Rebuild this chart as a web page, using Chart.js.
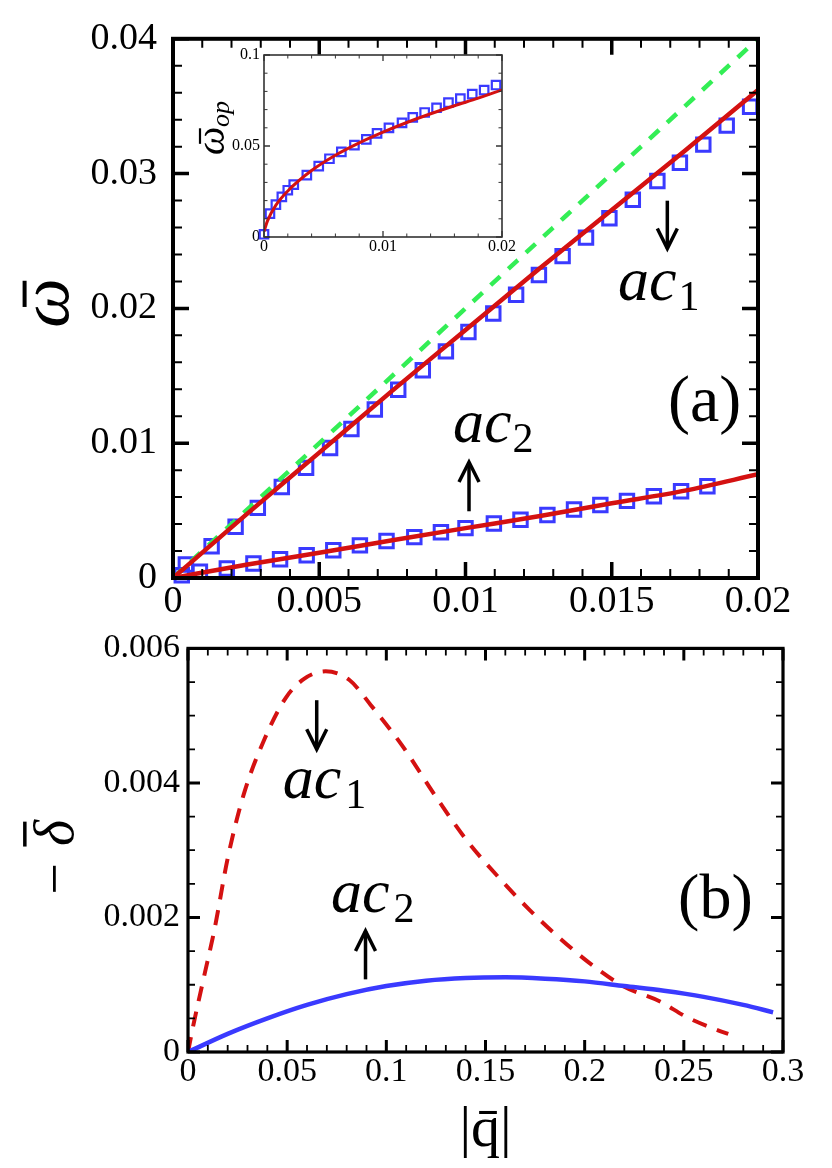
<!DOCTYPE html>
<html>
<head>
<meta charset="utf-8">
<script src="https://cdn.jsdelivr.net/npm/chart.js@4.4.1/dist/chart.umd.min.js"></script>
<style>
  html, body { margin: 0; padding: 0; background: #fff; }
  #wrap { position: relative; width: 832px; height: 1168px; overflow: hidden; }
  canvas { position: absolute; }
</style>
</head>
<body>
<div id="wrap">
  <canvas id="panelA" width="832" height="640" style="left:0px;top:0px"></canvas>
  <canvas id="inset" width="340" height="230" style="left:180px;top:36px"></canvas>
  <canvas id="panelB" width="832" height="548" style="left:0px;top:620px"></canvas>
</div>
<script>
// ---- panel (a): frequency vs wave number ----
const aSquareQ1 = [0.00044, 0.00132, 0.00214, 0.0029, 0.00372, 0.00455, 0.00537, 0.0061, 0.0069, 0.0077, 0.00854, 0.00933, 0.0101,
  0.01095, 0.01173, 0.01251, 0.01332, 0.01412, 0.01492, 0.01572, 0.01656, 0.01733, 0.01813, 0.01893, 0.01973];
const aSquareW1 = [0.0010, 0.00235, 0.0038, 0.0052, 0.00675, 0.00817, 0.00964, 0.01106, 0.0125, 0.01397, 0.01541, 0.01681, 0.01825,
  0.01962, 0.02101, 0.02248, 0.02388, 0.02525, 0.02669, 0.02806, 0.02945, 0.0308, 0.03215, 0.03356, 0.03496];
const aSquareQ2 = [0.0003, 0.00092, 0.00184, 0.00275, 0.00366, 0.00457, 0.00548, 0.00639, 0.0073, 0.00825, 0.00916,
  0.01, 0.01097, 0.01188, 0.0128, 0.01371, 0.01461, 0.01552, 0.01644, 0.01737, 0.01827];
const aSquareW2 = [0.0002, 0.00046, 0.00071, 0.00108, 0.00139, 0.00169, 0.00206, 0.00242, 0.00274, 0.00303, 0.0034,
  0.0037, 0.00404, 0.00432, 0.00468, 0.00508, 0.00542, 0.00572, 0.00606, 0.00643, 0.0068];
const aLineQ = [0, 0.0025, 0.005, 0.0075, 0.01, 0.0125, 0.015, 0.0175, 0.02];
const aLineW1 = [0, 0.0047, 0.0093, 0.0139, 0.0184, 0.0229, 0.0273, 0.0317, 0.0362];
const aLineW2 = [0, 0.00098, 0.00187, 0.0028, 0.0037, 0.00458, 0.00554, 0.00648, 0.0077];
const aGreenQ = [0, 0.02];
const aGreenW = [0, 0.04];
const aXTicks = [0, 0.005, 0.01, 0.015, 0.02];
const aXTickLabels = ['0', '0.005', '0.01', '0.015', '0.02'];
const aYTicks = [0, 0.01, 0.02, 0.03, 0.04];
const aYTickLabels = ['0', '0.01', '0.02', '0.03', '0.04'];

// ---- inset: optical branch ----
const insetQ = [0, 0.0005, 0.001, 0.0015, 0.002, 0.0025, 0.0036, 0.0046, 0.0055, 0.0065, 0.0076, 0.0086,
  0.0095, 0.0105, 0.0116, 0.0125, 0.0135, 0.0145, 0.0155, 0.0165, 0.0175, 0.0185, 0.0195];
const insetW = [0.0015, 0.0128, 0.0178, 0.022, 0.0257, 0.0288, 0.034, 0.0389, 0.043, 0.0468, 0.0505, 0.0536,
  0.0569, 0.06, 0.0627, 0.0657, 0.0684, 0.071, 0.0738, 0.076, 0.0785, 0.0807, 0.0835];
const insetLineQ = [0, 0.0003, 0.001, 0.002, 0.004, 0.006, 0.008, 0.01, 0.012, 0.014, 0.016, 0.018, 0.02];
const insetLineW = [0.003, 0.009, 0.0175, 0.0253, 0.0365, 0.0449, 0.0517, 0.0576, 0.0629, 0.0677, 0.0721, 0.0763, 0.0808];
const insetXTicks = [0, 0.01, 0.02];
const insetXTickLabels = ['0', '0.01', '0.02'];
const insetYTicks = [0, 0.05, 0.1];
const insetYTickLabels = ['0', '0.05', '0.1'];

// ---- panel (b): damping ----
const bQ1 = [0, 0.0027, 0.008, 0.0134, 0.0201, 0.0281, 0.0387, 0.0494, 0.0587, 0.0694, 0.0814, 0.0921, 0.1081,
  0.1242, 0.1402, 0.1562, 0.1723, 0.1883, 0.2043, 0.22, 0.238, 0.2514, 0.2666, 0.2724];
const bD1 = [0, 0.0004, 0.00111, 0.00183, 0.00289, 0.00383, 0.00466, 0.00527, 0.00555, 0.00566, 0.00553, 0.00516, 0.00455,
  0.00383, 0.00316, 0.00261, 0.00211, 0.00167, 0.00128, 0.00097, 0.00075, 0.00052, 0.00033, 0.00027];
const bQ2 = [0, 0.02, 0.04, 0.06, 0.08, 0.1, 0.12, 0.14, 0.16, 0.18, 0.2, 0.22, 0.24, 0.26, 0.28, 0.295];
const bD2 = [0, 0.00027, 0.0005, 0.0007, 0.00086, 0.00098, 0.00106, 0.0011, 0.00111, 0.00109, 0.00105, 0.00098,
  0.00091, 0.00082, 0.0007, 0.00059];
const bXTicks = [0, 0.05, 0.1, 0.15, 0.2, 0.25, 0.3];
const bXTickLabels = ['0', '0.05', '0.1', '0.15', '0.2', '0.25', '0.3'];
const bYTicks = [0, 0.002, 0.004, 0.006];
const bYTickLabels = ['0', '0.002', '0.004', '0.006'];

const SERIF = '"Liberation Serif", "DejaVu Serif", serif';
Chart.defaults.font.family = SERIF;
Chart.defaults.color = '#000';

const pts = (xs, ys) => xs.map((v, i) => ({ x: v, y: ys[i] }));

// box round the plot with inward ticks on every side
const frame = {
  id: 'frame',
  beforeDatasetsDraw(chart, args, o) {
    if (!o.fill) return;
    const a = chart.chartArea, ctx = chart.ctx;
    ctx.save();
    ctx.fillStyle = o.fill;
    ctx.fillRect(a.left, a.top, a.width, a.height);
    ctx.restore();
  },
  afterDatasetsDraw(chart, args, o) {
    const { ctx, chartArea: a, scales } = chart;
    ctx.save();
    ctx.strokeStyle = o.color;
    ['x', 'y'].forEach(id => {
      const s = scales[id];
      const step = o[id + 'Minor'];
      const n = Math.round((s.max - s.min) / step);
      for (let i = 0; i <= n; i++) {
        const v = s.min + i * step;
        const major = s.ticks.some(t => Math.abs(t.value - v) < step / 10);
        const len = major ? o.major : o.minor;
        ctx.lineWidth = major ? o.majorWidth : o.minorWidth;
        const p = s.getPixelForValue(v);
        ctx.beginPath();
        if (id === 'x') {
          ctx.moveTo(p, a.bottom); ctx.lineTo(p, a.bottom - len);
          ctx.moveTo(p, a.top); ctx.lineTo(p, a.top + len);
        } else {
          ctx.moveTo(a.left, p); ctx.lineTo(a.left + len, p);
          ctx.moveTo(a.right, p); ctx.lineTo(a.right - len, p);
        }
        ctx.stroke();
      }
    });
    ctx.lineWidth = o.width;
    ctx.strokeRect(a.left, a.top, a.width, a.height);
    ctx.restore();
  }
};

// labels, arrows and rotated axis titles (with a drawn bar over the symbol)
const notes = {
  id: 'notes',
  afterDraw(chart, args, o) {
    const { ctx, scales: { x, y } } = chart;
    ctx.save();
    ctx.fillStyle = '#000';
    ctx.strokeStyle = '#000';
    ctx.textAlign = 'left';
    ctx.textBaseline = 'alphabetic';
    (o.texts || []).forEach(t => {
      const px = x.getPixelForValue(t.x), py = y.getPixelForValue(t.y);
      ctx.font = (t.italic ? 'italic ' : '') + t.size + 'px ' + SERIF;
      ctx.fillText(t.text, px, py);
      if (t.sub) {
        const w = ctx.measureText(t.text).width;
        ctx.font = t.subSize + 'px ' + SERIF;
        ctx.fillText(t.sub, px + w + t.subGap, py + t.subDrop);
      }
    });
    (o.arrows || []).forEach(r => {
      const px = x.getPixelForValue(r.x);
      const p0 = y.getPixelForValue(r.from), p1 = y.getPixelForValue(r.to);
      const dir = Math.sign(p1 - p0);
      ctx.lineWidth = 3.5;
      ctx.beginPath();
      ctx.moveTo(px, p0); ctx.lineTo(px, p1);
      ctx.stroke();
      ctx.beginPath();
      ctx.moveTo(px - 10, p1 - dir * 20); ctx.lineTo(px, p1); ctx.lineTo(px + 10, p1 - dir * 20);
      ctx.stroke();
    });
    (o.rotated || []).forEach(t => {
      ctx.save();
      ctx.translate(t.x, t.y);
      ctx.rotate(-Math.PI / 2);
      ctx.font = 'italic ' + t.size + 'px ' + SERIF;
      const w1 = ctx.measureText(t.text).width;
      let w2 = 0;
      if (t.sub) {
        ctx.font = 'italic ' + t.subSize + 'px ' + SERIF;
        w2 = ctx.measureText(t.sub).width;
      }
      const x0 = -(w1 + w2) / 2;
      ctx.font = 'italic ' + t.size + 'px ' + SERIF;
      ctx.fillText(t.text, x0, 0);
      if (t.sub) {
        ctx.font = 'italic ' + t.subSize + 'px ' + SERIF;
        ctx.fillText(t.sub, x0 + w1, t.subDrop);
      }
      ctx.lineWidth = t.barWidth;
      ctx.beginPath();
      ctx.moveTo(x0 + w1 * t.bar[0], -t.size * t.bar[2]);
      ctx.lineTo(x0 + w1 * t.bar[1], -t.size * t.bar[2]);
      ctx.stroke();
      ctx.restore();
    });
    ctx.restore();
  }
};

function axis(min, max, ticks, labels, size, pad, fit, title) {
  return {
    type: 'linear', min: min, max: max,
    grid: { display: false, drawTicks: false },
    border: { display: false },
    afterBuildTicks: s => { s.ticks = ticks.map(v => ({ value: v })); },
    ticks: { callback: (v, i) => labels[i], font: { size: size }, color: '#000', padding: pad, maxRotation: 0, autoSkip: false },
    title: title || { display: false },
    afterFit: s => { if (s.isHorizontal()) s.height = fit; else s.width = fit; }
  };
}

const common = {
  responsive: false,
  animation: false,
  events: [],
  devicePixelRatio: 1
};

const BLUE = '#3a3aff', RED = '#d41111', GREEN = '#33ee55';

const squares = (data, r, bw) => ({
  data: data, showLine: false, pointStyle: 'rect', pointRadius: r, pointBorderWidth: bw,
  pointBorderColor: BLUE, pointBackgroundColor: 'rgba(0,0,0,0)', clip: false
});
const curve = (data, color, width, dash) => ({
  data: data, showLine: true, pointRadius: 0, borderColor: color, borderWidth: width,
  borderDash: dash || [], cubicInterpolationMode: 'monotone', fill: false
});

new Chart(document.getElementById('panelA'), {
  type: 'scatter',
  data: {
    datasets: [
      curve(pts(aLineQ, aLineW1), RED, 4.5),
      curve(pts(aLineQ, aLineW2), RED, 4.5),
      curve(pts(aGreenQ, aGreenW), GREEN, 4.5, [13, 11]),
      squares(pts(aSquareQ1, aSquareW1), 9.5, 3),
      squares(pts(aSquareQ2, aSquareW2), 9.5, 3)
    ]
  },
  options: Object.assign({}, common, {
    layout: { padding: { left: 0, right: 74, top: 33, bottom: 0 } },
    scales: {
      x: axis(0, 0.02, aXTicks, aXTickLabels, 38, 1, 62),
      y: axis(0, 0.04, aYTicks, aYTickLabels, 38, 16, 173)
    },
    plugins: {
      legend: { display: false },
      tooltip: { enabled: false },
      frame: { color: '#000', width: 4, major: 16, minor: 9, majorWidth: 3.5, minorWidth: 2, xMinor: 0.001, yMinor: 0.002 },
      notes: {
        texts: [
          { x: 0.01521, y: 0.02062, text: 'ac', sub: '1', italic: true, size: 62, subSize: 42, subGap: 2, subDrop: 10 },
          { x: 0.00957, y: 0.01006, text: 'ac', sub: '2', italic: true, size: 62, subSize: 42, subGap: 1, subDrop: 10 },
          { x: 0.01692, y: 0.01167, text: '(a)', size: 66 }
        ],
        arrows: [
          { x: 0.0169, from: 0.02799, to: 0.02444 },
          { x: 0.01012, from: 0.00495, to: 0.0086 }
        ],
        rotated: [ { x: 68, y: 303, text: 'ω', size: 70, bar: [0.42, 0.95, 0.62], barWidth: 4 } ]
      }
    }
  }),
  plugins: [frame, notes]
});

new Chart(document.getElementById('inset'), {
  type: 'scatter',
  data: {
    datasets: [
      curve(pts(insetLineQ, insetLineW), RED, 3),
      squares(pts(insetQ, insetW), 6, 2.2)
    ]
  },
  options: Object.assign({}, common, {
    layout: { padding: { left: 0, right: 18, top: 19, bottom: 0 } },
    scales: {
      x: axis(0, 0.02, insetXTicks, insetXTickLabels, 16, 0, 29),
      y: axis(0, 0.1, insetYTicks, insetYTickLabels, 16, 4, 84)
    },
    plugins: {
      legend: { display: false },
      tooltip: { enabled: false },
      frame: { fill: '#fff', color: '#333', width: 1.6, major: 6, minor: 3.5, majorWidth: 1.3, minorWidth: 1, xMinor: 0.002, yMinor: 0.01 },
      notes: {
        rotated: [ { x: 44, y: 92, text: 'ω', sub: 'op', size: 40, subSize: 26, subDrop: 5, bar: [0.4, 0.95, 0.6], barWidth: 2.2 } ]
      }
    }
  }),
  plugins: [frame, notes]
});

new Chart(document.getElementById('panelB'), {
  type: 'scatter',
  data: {
    datasets: [
      curve(pts(bQ2, bD2), BLUE, 4.5),
      curve(pts(bQ1, bD1), RED, 4, [15, 11])
    ]
  },
  options: Object.assign({}, common, {
    layout: { padding: { left: 0, right: 49, top: 27, bottom: 0 } },
    scales: {
      x: axis(0, 0.3, bXTicks, bXTickLabels, 34, 0, 116,
        { display: true, text: '|q̄|', font: { size: 58 }, color: '#000', padding: { top: 0, bottom: 2 } }),
      y: axis(0, 0.006, bYTicks, bYTickLabels, 34, 8, 188)
    },
    plugins: {
      legend: { display: false },
      tooltip: { enabled: false },
      frame: { color: '#000', width: 3.2, major: 12, minor: 7, majorWidth: 3, minorWidth: 1.8, xMinor: 0.01, yMinor: 0.0005 },
      notes: {
        texts: [
          { x: 0.04775, y: 0.003778, text: 'ac', sub: '1', italic: true, size: 62, subSize: 42, subGap: 4, subDrop: 10 },
          { x: 0.0721, y: 0.002077, text: 'ac', sub: '2', italic: true, size: 62, subSize: 42, subGap: 4, subDrop: 10 },
          { x: 0.2471, y: 0.00199, text: '(b)', size: 64 }
        ],
        arrows: [
          { x: 0.0649, from: 0.00523, to: 0.0045 },
          { x: 0.0895, from: 0.00108, to: 0.0018 }
        ],
        rotated: [ { x: 73, y: 239, text: '− δ', size: 56, bar: [0.66, 0.98, 0.86], barWidth: 3.5 } ]
      }
    }
  }),
  plugins: [frame, notes]
});
</script>
</body>
</html>
